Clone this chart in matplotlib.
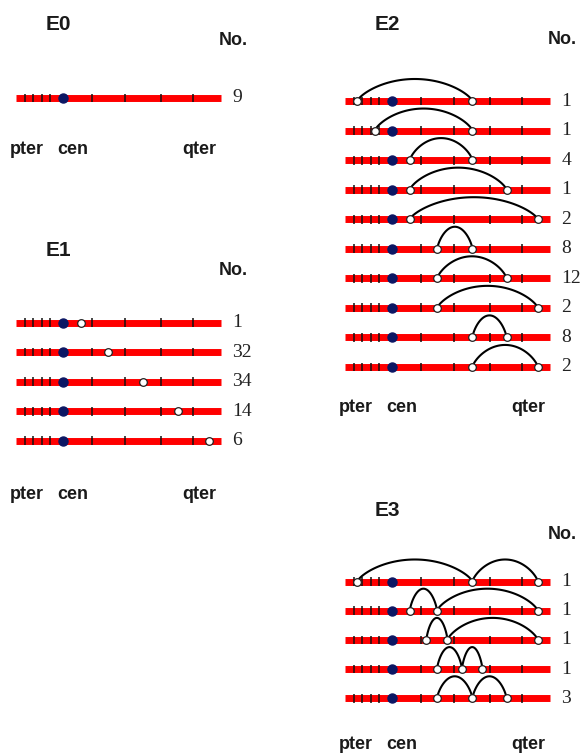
import numpy as np
import matplotlib.pyplot as plt

# positions along the chromosome in % of its length (pter = 0, qter = 100)
band_ticks = [4.4, 8.5, 12.6, 16.7, 37.1, 53.2, 70.9, 86.6]
cen = 23.2

e0_breaks = [[]]
e0_counts = [9]

e1_breaks = [[31.7], [45.0], [62.2], [79.2], [94.3]]
e1_counts = [1, 32, 34, 14, 6]

e2_breaks = [[6.0, 62.3], [14.6, 62.3], [31.7, 62.3], [31.7, 79.0], [31.7, 94.3],
             [45.1, 62.3], [45.1, 79.0], [45.1, 94.3], [62.3, 79.0], [62.3, 94.3]]
e2_counts = [1, 1, 4, 1, 2, 8, 12, 2, 8, 2]

e3_breaks = [[6.0, 62.3, 94.3], [31.7, 45.0, 94.3], [39.8, 50.1, 94.3],
             [45.0, 57.2, 67.2], [45.0, 62.3, 79.0]]
e3_counts = [1, 1, 1, 1, 3]

W, H = 585, 754
fig = plt.figure(figsize=(W / 100, H / 100), dpi=100)
BAR_PX = 204.5

sans = ['Liberation Sans', 'DejaVu Sans']
serif = ['Liberation Serif', 'DejaVu Serif']


def panel(name, breaks, counts, x0, y0, step, title_y, no_y, lab_y):
    # x0 = pixel of pter, y0 = pixel of first row, step = pixels between rows
    left, right = x0 - 16, x0 + 240
    top, bottom = title_y - 25, lab_y + 5
    ax = fig.add_axes([left / W, 1 - bottom / H, (right - left) / W, (bottom - top) / H])
    ax.set_xlim((left - x0) / BAR_PX * 100, (right - x0) / BAR_PX * 100)
    ax.set_ylim((bottom - y0) / step, (top - y0) / step)
    ax.axis('off')
    ux = lambda px: px / BAR_PX * 100      # pixel offset -> % units
    uy = lambda py: (py - y0) / step       # pixel row -> row units
    arc_h = 22 / step

    for r, (bps, n) in enumerate(zip(breaks, counts)):
        ax.plot([0, 100], [r, r], color='#ff0000', lw=5, solid_capstyle='butt', zorder=1)
        ax.vlines(band_ticks, r - 0.15, r + 0.15, color='#111111', lw=1.1, zorder=2)
        ax.plot(cen, r, 'o', color='#0c1764', ms=6.5, zorder=3)
        for a, b in zip(bps[:-1], bps[1:]):
            t = np.linspace(0, 1, 80)
            ax.plot(a + (b - a) * t, r - arc_h * (1 - (2 * t - 1) ** 2) ** 0.75,
                    color='black', lw=1.5, zorder=2)
        if bps:
            ax.plot(bps, [r] * len(bps), 'o', mfc='white', mec='#222222', ms=5.5, mew=0.9, zorder=4)
        ax.text(100 + ux(12), r, str(n), ha='left', va='center', fontsize=14,
                family=serif, color='#222222')

    ax.text(ux(42), uy(title_y), name, ha='center', va='baseline', fontsize=15,
            fontweight='bold', family=sans, color='#1a1a1a')
    ax.text(100 - ux(1.5), uy(no_y), 'No.', ha='left', va='baseline', fontsize=13,
            fontweight='bold', family=sans, color='#1a1a1a')
    for lab, px in [('pter', 11), ('cen', 57), ('qter', 183.5)]:
        ax.text(ux(px), uy(lab_y), lab, ha='center', va='baseline', fontsize=13,
                fontweight='bold', family=sans, color='#1a1a1a')


panel('E0', e0_breaks, e0_counts, 16, 98, 29.5, 30, 45, 154)
panel('E1', e1_breaks, e1_counts, 16, 322.5, 29.55, 256.5, 275, 499)
panel('E2', e2_breaks, e2_counts, 345, 101, 29.55, 30.5, 43.5, 412.5)
panel('E3', e3_breaks, e3_counts, 345, 581.5, 29.2, 516.5, 539, 749)

fig.savefig('out.png', dpi=100, facecolor='white')
